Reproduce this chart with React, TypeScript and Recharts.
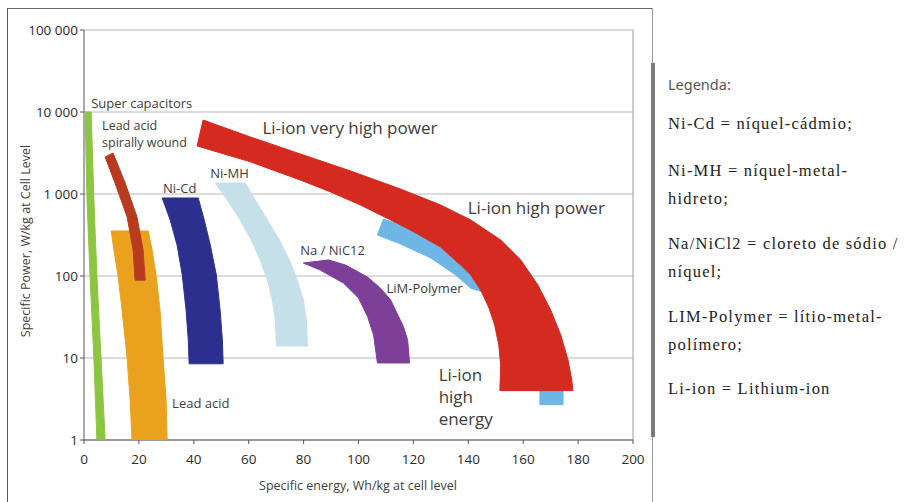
import {
  CartesianGrid,
  ReferenceDot,
  ReferenceLine,
  Scatter,
  ScatterChart,
  XAxis,
  YAxis,
} from "recharts";

// Ragone plot: specific energy (Wh/kg) vs specific power (W/kg, log scale)
const energyTicks = [0, 20, 40, 60, 80, 100, 120, 140, 160, 180, 200];
const powerTicks = [1, 10, 100, 1000, 10000, 100000];

// each band is an outline, walked once round (energy, power)
const superCapacitors = [
  { x: 0.4, y: 10000 }, { x: 1.1, y: 845 }, { x: 2.2, y: 100 }, { x: 3.6, y: 10 }, { x: 4.7, y: 1 },
  { x: 7.7, y: 1 }, { x: 6.2, y: 10 }, { x: 4.7, y: 100 }, { x: 3.6, y: 845 }, { x: 2.6, y: 10000 },
];

const leadAcid = [
  { x: 9.9, y: 354 }, { x: 10.9, y: 208 }, { x: 12.4, y: 100 }, { x: 13.9, y: 38 }, { x: 15.7, y: 10 },
  { x: 16.8, y: 3.1 }, { x: 17.5, y: 1 }, { x: 30.3, y: 1 }, { x: 29.9, y: 3.1 }, { x: 28.8, y: 10 },
  { x: 27.7, y: 38 }, { x: 26.3, y: 100 }, { x: 24.8, y: 208 }, { x: 23.4, y: 354 },
];

const leadAcidSpiral = [
  { x: 7.7, y: 2830 }, { x: 11.3, y: 1360 }, { x: 15.7, y: 525 }, { x: 17.9, y: 208 }, { x: 18.6, y: 89 },
  { x: 22.3, y: 89 }, { x: 21.5, y: 208 }, { x: 19.3, y: 525 }, { x: 15.0, y: 1360 }, { x: 10.6, y: 3160 },
];

const niCd = [
  { x: 28.5, y: 894 }, { x: 31.4, y: 482 }, { x: 33.9, y: 239 }, { x: 35.8, y: 103 }, { x: 37.2, y: 38 },
  { x: 38.0, y: 16.6 }, { x: 38.3, y: 8.5 }, { x: 50.7, y: 8.5 }, { x: 50.4, y: 16.6 }, { x: 49.6, y: 38 },
  { x: 48.2, y: 103 }, { x: 46.0, y: 239 }, { x: 43.8, y: 482 }, { x: 41.6, y: 894 },
];

const niMh = [
  { x: 47.8, y: 1360 }, { x: 52.2, y: 845 }, { x: 56.9, y: 482 }, { x: 60.9, y: 275 }, { x: 64.2, y: 157 },
  { x: 66.8, y: 89 }, { x: 68.6, y: 51 }, { x: 69.7, y: 29 }, { x: 70.1, y: 14 },
  { x: 81.4, y: 14 }, { x: 81.0, y: 29 }, { x: 79.9, y: 51 }, { x: 77.7, y: 89 }, { x: 74.8, y: 157 },
  { x: 71.2, y: 275 }, { x: 66.8, y: 482 }, { x: 62.4, y: 845 }, { x: 58.8, y: 1360 },
];

const naNiCl2 = [
  { x: 79.9, y: 144 }, { x: 86.1, y: 118 }, { x: 94.5, y: 82 }, { x: 100.0, y: 54 }, { x: 103.3, y: 32 },
  { x: 105.5, y: 19 }, { x: 106.9, y: 8.7 }, { x: 118.6, y: 8.7 }, { x: 117.9, y: 16.6 }, { x: 116.4, y: 24 },
  { x: 111.7, y: 51 }, { x: 108.0, y: 71 }, { x: 103.3, y: 97 }, { x: 95.3, y: 136 }, { x: 89.1, y: 157 },
];

const limPolymer = [
  { x: 109.1, y: 495 }, { x: 106.9, y: 316 }, { x: 115.3, y: 246 }, { x: 126.3, y: 166 }, { x: 135.4, y: 103 },
  { x: 140.9, y: 71 }, { x: 145.3, y: 63.8 }, { x: 150.0, y: 30.7 }, { x: 155.5, y: 9.5 }, { x: 162.8, y: 4.1 },
  { x: 166.1, y: 4.0 }, { x: 166.1, y: 2.7 }, { x: 174.5, y: 2.7 }, { x: 174.5, y: 4.0 }, { x: 169.3, y: 16.6 },
  { x: 162.0, y: 51 }, { x: 151.8, y: 148 }, { x: 137.2, y: 208 }, { x: 126.3, y: 290 }, { x: 115.3, y: 419 },
];

const liIon = [
  { x: 43.4, y: 7980 }, { x: 60.6, y: 4960 }, { x: 78.8, y: 3080 }, { x: 97.1, y: 1910 }, { x: 115.3, y: 1150 },
  { x: 129.9, y: 735 }, { x: 140.9, y: 482 }, { x: 151.8, y: 275 }, { x: 159.1, y: 157 }, { x: 165.3, y: 78 },
  { x: 170.1, y: 38 }, { x: 173.7, y: 19 }, { x: 176.3, y: 9.5 }, { x: 177.7, y: 5.4 }, { x: 178.1, y: 4.0 },
  { x: 151.5, y: 4.0 }, { x: 151.8, y: 8.2 }, { x: 151.1, y: 14.4 }, { x: 149.6, y: 25.3 }, { x: 147.4, y: 41.8 },
  { x: 144.5, y: 67.4 }, { x: 140.9, y: 103 }, { x: 137.2, y: 136 }, { x: 129.9, y: 226 }, { x: 118.9, y: 364 },
  { x: 111.7, y: 482 }, { x: 100.7, y: 734 }, { x: 89.8, y: 1060 }, { x: 78.8, y: 1480 }, { x: 60.6, y: 2470 },
  { x: 41.2, y: 3850 },
];

// drawn in this order, later ones on top
const bands = [
  { name: "Super capacitors", color: "#8cc540", data: superCapacitors },
  { name: "Lead acid", color: "#eaa21e", data: leadAcid },
  { name: "Lead acid spirally wound", color: "#b83b1f", data: leadAcidSpiral },
  { name: "Ni-Cd", color: "#2d2f8e", data: niCd },
  { name: "Ni-MH", color: "#c6e0e9", data: niMh },
  { name: "Na / NiC12", color: "#7d3f97", data: naNiCl2 },
  { name: "LiM-Polymer", color: "#6db6e5", data: limPolymer },
  { name: "Li-ion", color: "#d52a1f", data: liIon },
];

// label anchors: left edge, vertical middle of the text
const labelTexts = [
  "Super capacitors", "Lead acid", "spirally wound", "Ni-Cd", "Ni-MH", "Li-ion very high power",
  "Li-ion high power", "Na / NiC12", "LiM-Polymer", "Li-ion", "high", "energy", "Lead acid",
];
const labelEnergy = [2.6, 6.6, 6.6, 28.8, 46.0, 65.0, 139.8, 78.8, 110.2, 129.2, 129.2, 129.2, 32.1];
const labelPower = [12880, 6840, 4190, 1180, 1800, 6380, 675, 208, 71.4, 6.2, 3.35, 1.8, 2.83];
const labelSize = [13, 12.5, 12.5, 13, 13, 17, 17, 13, 13, 17, 17, 17, 13];

const legendLines = [
  "Ni-Cd = níquel-cádmio;",
  "Ni-MH = níquel-metal-",
  "hidreto;",
  "Na/NiCl2 = cloreto de sódio /",
  "níquel;",
  "LIM-Polymer = lítio-metal-",
  "polímero;",
  "Li-ion = Lithium-ion",
];
const legendLineY = [124, 171, 199, 244, 272, 317, 345, 389];

const SANS = "'Open Sans', 'DejaVu Sans', sans-serif";
const TEXT = "#3d3d3d";

const groupThousands = (v: number) => String(v).replace(/\B(?=(\d{3})+(?!\d))/g, " ");

export default function App() {
  return (
    <div style={{ position: "relative", width: 914, height: 502, background: "#fff", overflow: "hidden" }}>
      <style>{"body{margin:0}"}</style>

      {/* frame of the original figure */}
      <div style={{ position: "absolute", left: 7, top: 8, width: 646, height: 0, borderTop: "1.5px solid #666" }} />
      <div style={{ position: "absolute", left: 7, top: 8, width: 0, height: 494, borderLeft: "1.5px solid #555" }} />
      <div style={{ position: "absolute", left: 652, top: 8, width: 0, height: 494, borderLeft: "1px solid #999" }} />

      <div style={{ position: "absolute", left: 0, top: 0 }}>
        <ScatterChart width={660} height={502} margin={{ top: 30, right: 27, bottom: 6, left: 0 }}>
          <CartesianGrid vertical={false} stroke="#b9b9b9" strokeWidth={1} />
          <XAxis
            type="number"
            dataKey="x"
            domain={[0, 200]}
            ticks={energyTicks}
            interval={0}
            height={56}
            tickSize={4}
            tickMargin={10}
            stroke="#555"
            tick={{ fill: "#2a2a2a", fontSize: 13.5, fontFamily: SANS }}
          />
          <YAxis
            type="number"
            dataKey="y"
            scale="log"
            domain={[1, 100000]}
            allowDataOverflow
            ticks={powerTicks}
            interval={0}
            width={84}
            tickSize={4}
            stroke="#555"
            tickFormatter={groupThousands}
            tick={{ fill: "#2a2a2a", fontSize: 13.5, fontFamily: SANS }}
          />
          <ReferenceLine x={200} stroke="#9a9a9a" />
          {bands.map((b) => (
            <Scatter
              key={b.name}
              name={b.name}
              data={b.data}
              fill={b.color}
              line={{ fill: b.color, stroke: b.color, strokeWidth: 1 }}
              lineJointType="linearClosed"
              shape={() => <g />}
              legendType="none"
              isAnimationActive={false}
            />
          ))}
          {labelTexts.map((t, i) => (
            <ReferenceDot
              key={i}
              x={labelEnergy[i]}
              y={labelPower[i]}
              r={0}
              stroke="none"
              ifOverflow="visible"
              label={{
                value: t,
                position: "right",
                offset: 0,
                fill: TEXT,
                fontSize: labelSize[i],
                fontFamily: SANS,
              }}
            />
          ))}
        </ScatterChart>
      </div>

      {/* axis titles */}
      <div
        style={{
          position: "absolute", left: 358, top: 485, transform: "translate(-50%, -50%)",
          whiteSpace: "nowrap", fontFamily: SANS, fontSize: 12.5, color: TEXT,
        }}
      >
        Specific energy, Wh/kg at cell level
      </div>
      <div
        style={{
          position: "absolute", left: 25, top: 241, transform: "translate(-50%, -50%) rotate(-90deg)",
          whiteSpace: "nowrap", fontFamily: SANS, fontSize: 12.5, color: TEXT,
        }}
      >
        Specific Power, W/kg at Cell Level
      </div>

      {/* legend panel */}
      <div style={{ position: "absolute", left: 651, top: 63, width: 4, height: 374, background: "#7a7a7a" }} />
      <div
        style={{
          position: "absolute", left: 668, top: 84, transform: "translateY(-50%)",
          fontFamily: "'Noto Sans', sans-serif", fontSize: 14.5, color: "#555", whiteSpace: "nowrap",
        }}
      >
        Legenda:
      </div>
      {legendLines.map((t, i) => (
        <div
          key={i}
          style={{
            position: "absolute", left: 668, top: legendLineY[i], transform: "translateY(-50%)",
            fontFamily: "'Liberation Serif', serif", fontSize: 16.5, letterSpacing: 1.2,
            color: "#222", whiteSpace: "nowrap",
          }}
        >
          {t}
        </div>
      ))}
    </div>
  );
}
